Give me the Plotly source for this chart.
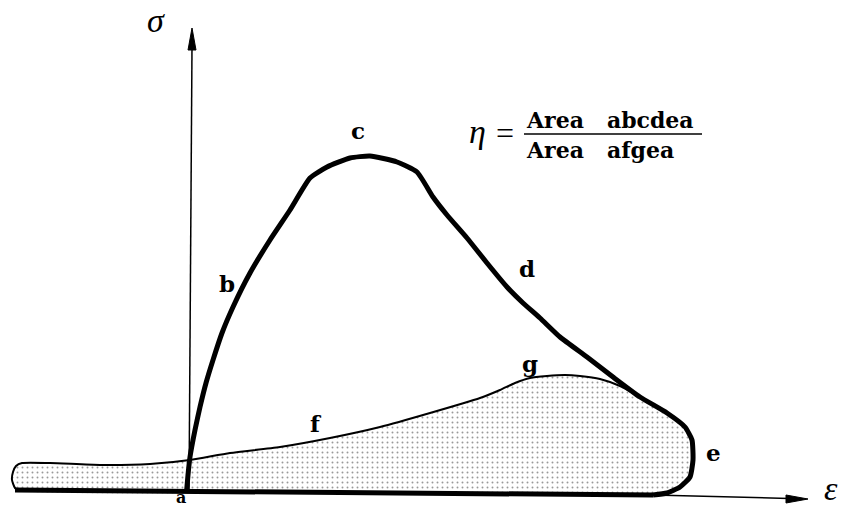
import plotly.graph_objects as go

# Stress-strain loop: strain (eps) and stress (sig) in drawing units, origin at point a
# Outer loading/unloading path a-b-c-d-e
loop_eps = [-2.5, -1, 1, 6, 11, 17, 24, 33, 44, 61, 81, 101, 121, 138, 161, 181, 208, 228,
            244, 258, 278, 298, 318, 334, 351, 371, 398, 424, 451, 478, 496, 503, 504, 501, 491, 478, 464]
loop_sig = [0, 17, 35, 62, 85, 109, 132, 159, 185, 219, 252, 282, 314, 325, 334, 336, 330, 320,
            295, 277, 254, 229, 205, 189, 174, 155, 135, 115, 95, 79, 65, 52, 32, 15, 5, -1, -3]

# Envelope a-f-g (with the tail to the left of the origin)
env_eps = [-169, -174, -177, -176, -173, -167, -139, -89, -39, 1, 41, 91, 141, 191, 241,
           291, 311, 326, 341, 358, 376, 391, 411, 431, 451]
env_sig = [1, 4, 12, 20, 26, 29, 29, 27, 28, 32, 39, 45, 54, 65, 79,
           94, 102, 109, 114, 116, 117, 116, 113, 106, 95]

# Base line (closing the loop back to a) and the strain axis
base_eps = [-174, 464]
base_sig = [2, -3]
strain_axis_eps = [464, 600]
strain_axis_sig = [-3, -6.5]
stress_axis_eps = [0, 3]
stress_axis_sig = [0, 445]

point_names = ["a", "b", "c", "d", "e", "f", "g"]
point_eps = [-8, 38, 169, 338, 524, 127, 341]
point_sig = [-5, 209, 362, 224, 40, 69, 129]

X0, Y0 = 189, 492  # page position of the origin


def pos(px, py):
    return px - X0, Y0 - py


fig = go.Figure()

# Shaded area a-f-g-e-a
j = loop_eps.index(451)
fill_x = env_eps + loop_eps[j:] + [base_eps[0] + 5]
fill_y = env_sig + loop_sig[j:] + [base_sig[0] - 1]
fig.add_trace(go.Scatter(
    x=fill_x, y=fill_y, mode="lines", fill="toself", line=dict(width=0, shape="spline", smoothing=0.5),
    fillcolor="white",
    fillpattern=dict(shape=".", fgcolor="#333333", bgcolor="white", size=5, solidity=0.12),
    hoverinfo="skip", showlegend=False))

# Envelope outline
fig.add_trace(go.Scatter(
    x=env_eps, y=env_sig, mode="lines", line=dict(color="black", width=2, shape="spline", smoothing=0.6),
    hoverinfo="skip", showlegend=False))

# Axes
fig.add_trace(go.Scatter(x=stress_axis_eps, y=stress_axis_sig, mode="lines",
                         line=dict(color="black", width=1.5), hoverinfo="skip", showlegend=False))
fig.add_trace(go.Scatter(x=strain_axis_eps, y=strain_axis_sig, mode="lines",
                         line=dict(color="black", width=1.5), hoverinfo="skip", showlegend=False))

# Thick base line and loop
fig.add_trace(go.Scatter(x=base_eps, y=base_sig, mode="lines",
                         line=dict(color="black", width=5), hoverinfo="skip", showlegend=False))
fig.add_trace(go.Scatter(
    x=loop_eps, y=loop_sig, mode="lines", line=dict(color="black", width=5, shape="spline", smoothing=0.5),
    hoverinfo="skip", showlegend=False))

# Arrowheads
tx, ty = stress_axis_eps[1], stress_axis_sig[1] + 19
fig.add_shape(type="path", path=f"M {tx},{ty} L {tx-4},{ty-22} L {tx+4},{ty-22} Z",
              fillcolor="black", line=dict(color="black", width=1))
hx, hy = strain_axis_eps[1] + 19, strain_axis_sig[1] - 0.5
fig.add_shape(type="path", path=f"M {hx},{hy} L {hx-22},{hy+4} L {hx-22},{hy-4} Z",
              fillcolor="black", line=dict(color="black", width=1))

label_font = dict(family="DejaVu Serif", size=23, color="black", weight="bold")
for n, ex, sy in zip(point_names, point_eps, point_sig):
    f = dict(label_font, size=16) if n == "a" else label_font
    fig.add_annotation(x=ex, y=sy, text=n, showarrow=False, font=f,
                       xanchor="center", yanchor="middle", borderpad=0)

greek = dict(family="Liberation Serif", size=34, color="black", style="italic")
x, y = pos(156, 20)
fig.add_annotation(x=x, y=y, text="σ", showarrow=False, font=greek, xanchor="center", yanchor="middle")
x, y = pos(831, 488)
fig.add_annotation(x=x, y=y, text="ε", showarrow=False, font=greek, xanchor="center", yanchor="middle",
                   borderpad=0)

# Definition of the ratio
x, y = pos(477, 131)
fig.add_annotation(x=x, y=y, text="η", showarrow=False, font=dict(family="Liberation Serif", size=34,
                   color="black", style="italic"), xanchor="center", yanchor="middle")
x, y = pos(505, 133)
fig.add_annotation(x=x, y=y, text="=", showarrow=False, font=dict(family="Liberation Serif", size=32,
                   color="black"), xanchor="center", yanchor="middle")
frac_font = dict(family="DejaVu Serif", size=22, color="black", weight="bold")
x, y = pos(524, 120)
fig.add_annotation(x=x, y=y, text="Area\u00a0\u00a0\u00a0abcdea", showarrow=False, font=frac_font,
                   xanchor="left", yanchor="middle")
x, y = pos(524, 150)
fig.add_annotation(x=x, y=y, text="Area\u00a0\u00a0\u00a0afgea", showarrow=False, font=frac_font,
                   xanchor="left", yanchor="middle")
x1, y1 = pos(524, 134)
x2, y2 = pos(702, 134)
fig.add_shape(type="line", x0=x1, y0=y1, x1=x2, y1=y2, line=dict(color="black", width=1.5))

fig.update_layout(
    width=848, height=506, margin=dict(l=0, r=0, t=0, b=0),
    paper_bgcolor="white", plot_bgcolor="white",
    xaxis=dict(range=[-X0, 848 - X0], visible=False, fixedrange=True),
    yaxis=dict(range=[Y0 - 506, Y0], visible=False, fixedrange=True),
    showlegend=False,
)

fig.write_html("out.html", config={"displayModeBar": False})
